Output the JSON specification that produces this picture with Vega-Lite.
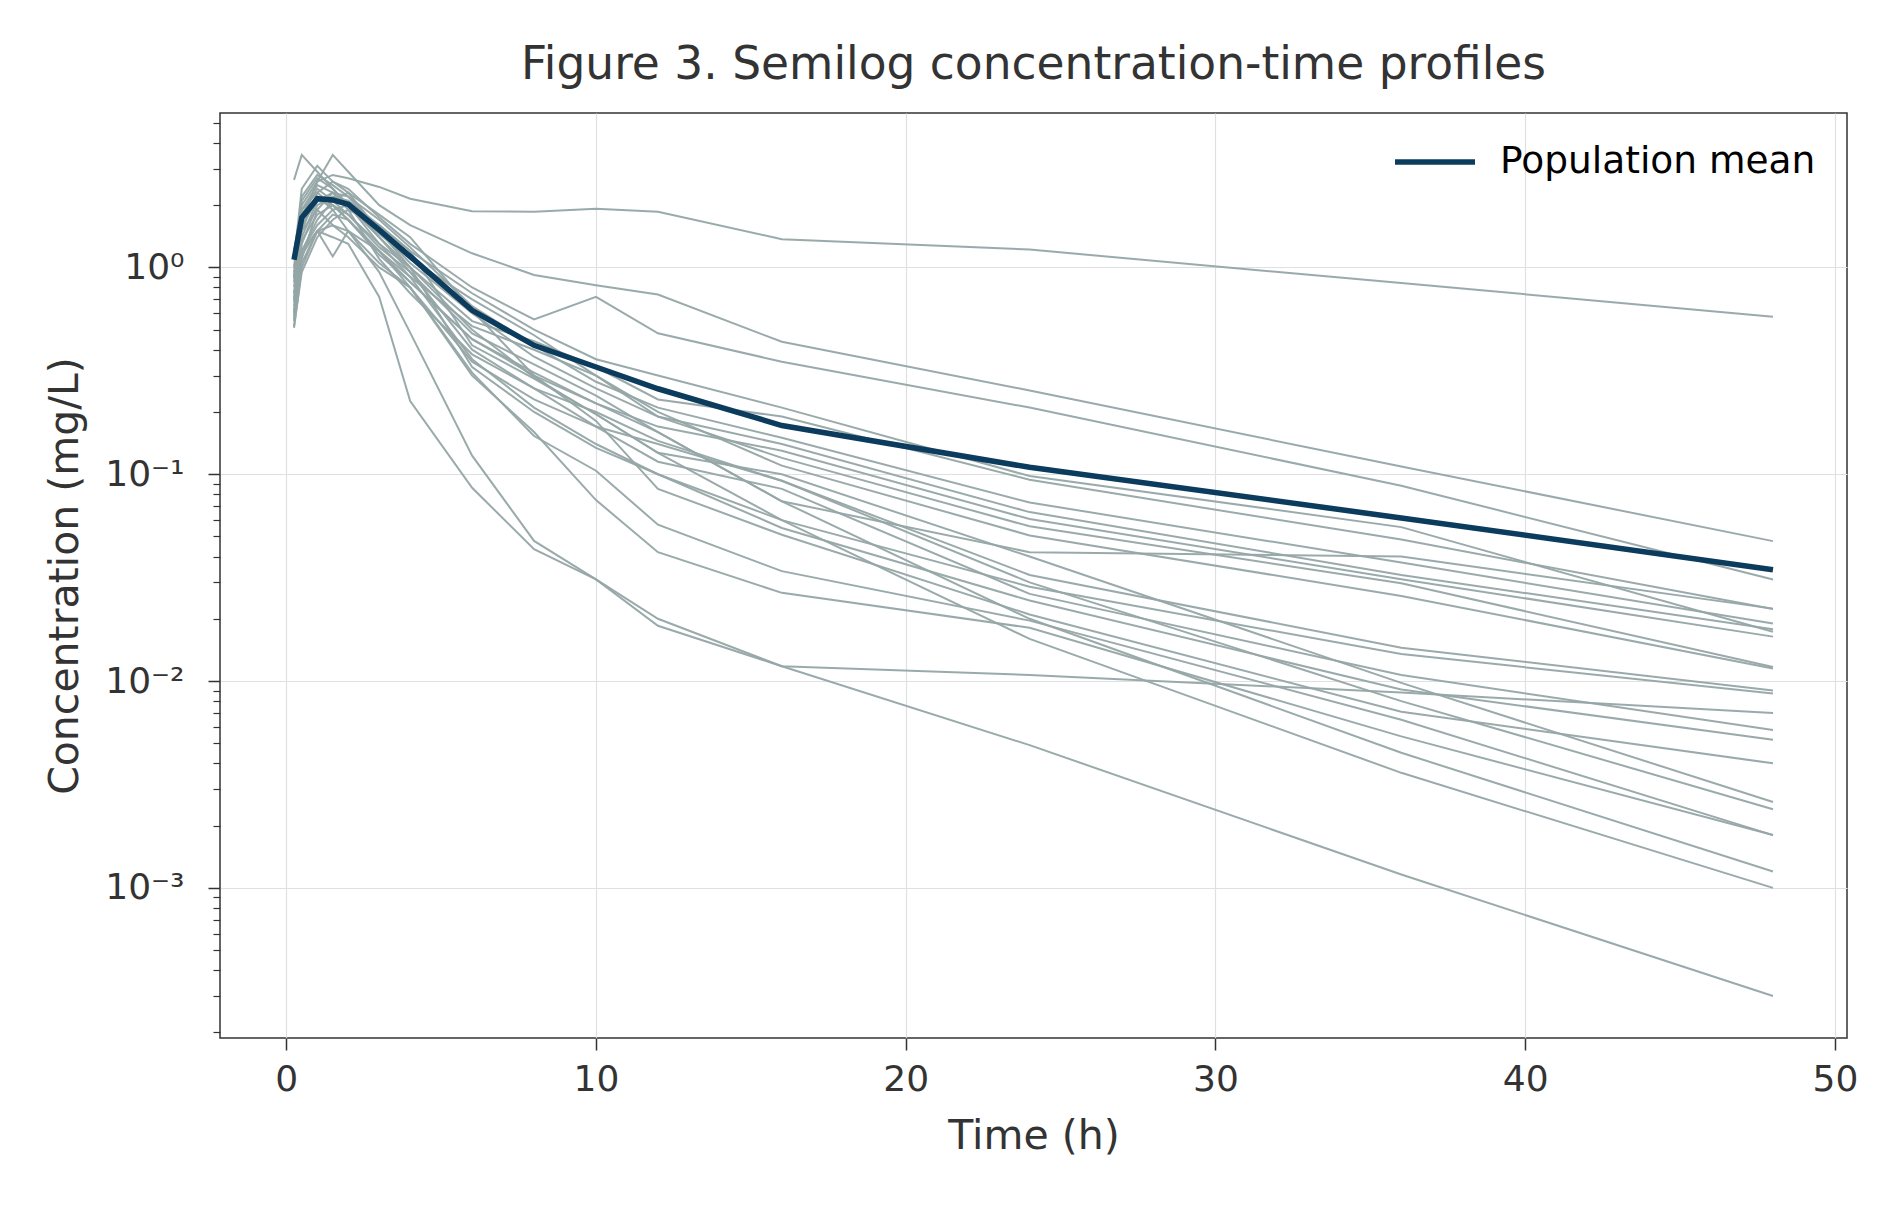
{
  "$schema": "https://vega.github.io/schema/vega-lite/v6.json",
  "autosize": "none",
  "width": 1627,
  "height": 925,
  "padding": {"left": 220, "top": 113, "right": 56, "bottom": 168},
  "background": "white",
  "title": {"text": "Figure 3. Semilog concentration-time profiles", "fontSize": 45.5, "font": "DejaVu Sans", "fontWeight": "normal", "color": "#333333", "anchor": "middle", "offset": 25},
  "config": {
    "view": {"stroke": "#333333", "strokeWidth": 1.5},
    "axis": {"labelFont": "DejaVu Sans", "titleFont": "DejaVu Sans", "labelFontSize": 36, "titleFontSize": 41, "labelColor": "#333333", "titleColor": "#333333", "titleFontWeight": "normal", "tickColor": "#333333", "tickWidth": 1.5, "tickSize": 12, "domain": false, "gridColor": "#e0e0e0", "gridWidth": 1.2}
  },
  "datasets": {
    "mean": [
      {"time": 0.25, "conc": 1.09, "series": "Population mean"},
      {"time": 0.5, "conc": 1.74, "series": "Population mean"},
      {"time": 1, "conc": 2.15, "series": "Population mean"},
      {"time": 1.5, "conc": 2.12, "series": "Population mean"},
      {"time": 2, "conc": 2.02, "series": "Population mean"},
      {"time": 3, "conc": 1.52, "series": "Population mean"},
      {"time": 4, "conc": 1.13, "series": "Population mean"},
      {"time": 6, "conc": 0.62, "series": "Population mean"},
      {"time": 8, "conc": 0.42, "series": "Population mean"},
      {"time": 10, "conc": 0.33, "series": "Population mean"},
      {"time": 12, "conc": 0.259, "series": "Population mean"},
      {"time": 16, "conc": 0.172, "series": "Population mean"},
      {"time": 24, "conc": 0.108, "series": "Population mean"},
      {"time": 36, "conc": 0.0615, "series": "Population mean"},
      {"time": 48, "conc": 0.0345, "series": "Population mean"}
    ],
    "subjects": [
      {"subject":"S01","time":0.25,"conc":1.2},{"subject":"S01","time":0.5,"conc":2.0},{"subject":"S01","time":1,"conc":2.6},{"subject":"S01","time":1.5,"conc":2.8},{"subject":"S01","time":2,"conc":2.7},{"subject":"S01","time":3,"conc":2.45},{"subject":"S01","time":4,"conc":2.15},{"subject":"S01","time":6,"conc":1.87},{"subject":"S01","time":8,"conc":1.86},{"subject":"S01","time":10,"conc":1.92},{"subject":"S01","time":12,"conc":1.86},{"subject":"S01","time":16,"conc":1.37},{"subject":"S01","time":24,"conc":1.22},{"subject":"S01","time":36,"conc":0.84},{"subject":"S01","time":48,"conc":0.578},
      {"subject":"S02","time":0.25,"conc":0.9},{"subject":"S02","time":0.5,"conc":1.7},{"subject":"S02","time":1,"conc":2.6},{"subject":"S02","time":1.5,"conc":3.5},{"subject":"S02","time":2,"conc":2.9},{"subject":"S02","time":3,"conc":2.0},{"subject":"S02","time":4,"conc":1.6},{"subject":"S02","time":6,"conc":1.17},{"subject":"S02","time":8,"conc":0.92},{"subject":"S02","time":10,"conc":0.82},{"subject":"S02","time":12,"conc":0.74},{"subject":"S02","time":16,"conc":0.437},{"subject":"S02","time":24,"conc":0.254},{"subject":"S02","time":36,"conc":0.109},{"subject":"S02","time":48,"conc":0.0475},
      {"subject":"S03","time":0.25,"conc":0.75},{"subject":"S03","time":0.5,"conc":1.5},{"subject":"S03","time":1,"conc":2.3},{"subject":"S03","time":1.5,"conc":2.6},{"subject":"S03","time":2,"conc":2.4},{"subject":"S03","time":3,"conc":1.75},{"subject":"S03","time":4,"conc":1.3},{"subject":"S03","time":6,"conc":0.8},{"subject":"S03","time":8,"conc":0.56},{"subject":"S03","time":10,"conc":0.72},{"subject":"S03","time":12,"conc":0.48},{"subject":"S03","time":16,"conc":0.35},{"subject":"S03","time":24,"conc":0.21},{"subject":"S03","time":36,"conc":0.088},{"subject":"S03","time":48,"conc":0.031},
      {"subject":"S04","time":0.25,"conc":0.7},{"subject":"S04","time":0.5,"conc":1.6},{"subject":"S04","time":1,"conc":2.1},{"subject":"S04","time":1.5,"conc":2.3},{"subject":"S04","time":2,"conc":2.0},{"subject":"S04","time":3,"conc":1.4},{"subject":"S04","time":4,"conc":0.95},{"subject":"S04","time":6,"conc":0.48},{"subject":"S04","time":8,"conc":0.34},{"subject":"S04","time":10,"conc":0.24},{"subject":"S04","time":12,"conc":0.16},{"subject":"S04","time":16,"conc":0.074},{"subject":"S04","time":24,"conc":0.042},{"subject":"S04","time":36,"conc":0.04},{"subject":"S04","time":48,"conc":0.0224},
      {"subject":"S05","time":0.25,"conc":0.6},{"subject":"S05","time":0.5,"conc":1.3},{"subject":"S05","time":1,"conc":2.0},{"subject":"S05","time":1.5,"conc":2.2},{"subject":"S05","time":2,"conc":2.1},{"subject":"S05","time":3,"conc":1.6},{"subject":"S05","time":4,"conc":1.2},{"subject":"S05","time":6,"conc":0.75},{"subject":"S05","time":8,"conc":0.5},{"subject":"S05","time":10,"conc":0.36},{"subject":"S05","time":12,"conc":0.3},{"subject":"S05","time":16,"conc":0.21},{"subject":"S05","time":24,"conc":0.098},{"subject":"S05","time":36,"conc":0.0555},{"subject":"S05","time":48,"conc":0.0173},
      {"subject":"S06","time":0.25,"conc":1.0},{"subject":"S06","time":0.5,"conc":2.2},{"subject":"S06","time":1,"conc":2.8},{"subject":"S06","time":1.5,"conc":2.5},{"subject":"S06","time":2,"conc":2.2},{"subject":"S06","time":3,"conc":1.5},{"subject":"S06","time":4,"conc":1.0},{"subject":"S06","time":6,"conc":0.55},{"subject":"S06","time":8,"conc":0.44},{"subject":"S06","time":10,"conc":0.33},{"subject":"S06","time":12,"conc":0.23},{"subject":"S06","time":16,"conc":0.19},{"subject":"S06","time":24,"conc":0.094},{"subject":"S06","time":36,"conc":0.0483},{"subject":"S06","time":48,"conc":0.0223},
      {"subject":"S07","time":0.25,"conc":0.55},{"subject":"S07","time":0.5,"conc":1.1},{"subject":"S07","time":1,"conc":1.9},{"subject":"S07","time":1.5,"conc":2.3},{"subject":"S07","time":2,"conc":2.2},{"subject":"S07","time":3,"conc":1.7},{"subject":"S07","time":4,"conc":1.25},{"subject":"S07","time":6,"conc":0.65},{"subject":"S07","time":8,"conc":0.42},{"subject":"S07","time":10,"conc":0.28},{"subject":"S07","time":12,"conc":0.21},{"subject":"S07","time":16,"conc":0.15},{"subject":"S07","time":24,"conc":0.073},{"subject":"S07","time":36,"conc":0.0374},{"subject":"S07","time":48,"conc":0.019},
      {"subject":"S08","time":0.25,"conc":0.8},{"subject":"S08","time":0.5,"conc":1.8},{"subject":"S08","time":1,"conc":2.4},{"subject":"S08","time":1.5,"conc":2.1},{"subject":"S08","time":2,"conc":1.8},{"subject":"S08","time":3,"conc":1.3},{"subject":"S08","time":4,"conc":0.9},{"subject":"S08","time":6,"conc":0.52},{"subject":"S08","time":8,"conc":0.4},{"subject":"S08","time":10,"conc":0.3},{"subject":"S08","time":12,"conc":0.19},{"subject":"S08","time":16,"conc":0.14},{"subject":"S08","time":24,"conc":0.0656},{"subject":"S08","time":36,"conc":0.0326},{"subject":"S08","time":48,"conc":0.0178},
      {"subject":"S09","time":0.25,"conc":0.65},{"subject":"S09","time":0.5,"conc":1.4},{"subject":"S09","time":1,"conc":2.1},{"subject":"S09","time":1.5,"conc":2.0},{"subject":"S09","time":2,"conc":1.7},{"subject":"S09","time":3,"conc":1.2},{"subject":"S09","time":4,"conc":0.85},{"subject":"S09","time":6,"conc":0.45},{"subject":"S09","time":8,"conc":0.31},{"subject":"S09","time":10,"conc":0.22},{"subject":"S09","time":12,"conc":0.17},{"subject":"S09","time":16,"conc":0.13},{"subject":"S09","time":24,"conc":0.0607},{"subject":"S09","time":36,"conc":0.0311},{"subject":"S09","time":48,"conc":0.0164},
      {"subject":"S10","time":0.25,"conc":1.1},{"subject":"S10","time":0.5,"conc":2.4},{"subject":"S10","time":1,"conc":3.1},{"subject":"S10","time":1.5,"conc":2.6},{"subject":"S10","time":2,"conc":2.3},{"subject":"S10","time":3,"conc":1.5},{"subject":"S10","time":4,"conc":1.05},{"subject":"S10","time":6,"conc":0.6},{"subject":"S10","time":8,"conc":0.37},{"subject":"S10","time":10,"conc":0.26},{"subject":"S10","time":12,"conc":0.19},{"subject":"S10","time":16,"conc":0.12},{"subject":"S10","time":24,"conc":0.056},{"subject":"S10","time":36,"conc":0.0297},{"subject":"S10","time":48,"conc":0.0117},
      {"subject":"S11","time":0.25,"conc":0.62},{"subject":"S11","time":0.5,"conc":1.2},{"subject":"S11","time":1,"conc":1.6},{"subject":"S11","time":1.5,"conc":1.9},{"subject":"S11","time":2,"conc":2.0},{"subject":"S11","time":3,"conc":1.45},{"subject":"S11","time":4,"conc":1.1},{"subject":"S11","time":6,"conc":0.7},{"subject":"S11","time":8,"conc":0.47},{"subject":"S11","time":10,"conc":0.3},{"subject":"S11","time":12,"conc":0.2},{"subject":"S11","time":16,"conc":0.11},{"subject":"S11","time":24,"conc":0.0506},{"subject":"S11","time":36,"conc":0.0258},{"subject":"S11","time":48,"conc":0.0115},
      {"subject":"S12","time":0.25,"conc":0.9},{"subject":"S12","time":0.5,"conc":1.9},{"subject":"S12","time":1,"conc":2.5},{"subject":"S12","time":1.5,"conc":2.3},{"subject":"S12","time":2,"conc":1.9},{"subject":"S12","time":3,"conc":1.1},{"subject":"S12","time":4,"conc":0.75},{"subject":"S12","time":6,"conc":0.38},{"subject":"S12","time":8,"conc":0.26},{"subject":"S12","time":10,"conc":0.2},{"subject":"S12","time":12,"conc":0.145},{"subject":"S12","time":16,"conc":0.093},{"subject":"S12","time":24,"conc":0.0326},{"subject":"S12","time":36,"conc":0.0145},{"subject":"S12","time":48,"conc":0.009},
      {"subject":"S13","time":0.25,"conc":0.52},{"subject":"S13","time":0.5,"conc":0.95},{"subject":"S13","time":1,"conc":1.4},{"subject":"S13","time":1.5,"conc":1.7},{"subject":"S13","time":2,"conc":1.9},{"subject":"S13","time":3,"conc":1.6},{"subject":"S13","time":4,"conc":1.2},{"subject":"S13","time":6,"conc":0.42},{"subject":"S13","time":8,"conc":0.29},{"subject":"S13","time":10,"conc":0.195},{"subject":"S13","time":12,"conc":0.127},{"subject":"S13","time":16,"conc":0.06},{"subject":"S13","time":24,"conc":0.0286},{"subject":"S13","time":36,"conc":0.0135},{"subject":"S13","time":48,"conc":0.0087},
      {"subject":"S14","time":0.25,"conc":0.85},{"subject":"S14","time":0.5,"conc":1.7},{"subject":"S14","time":1,"conc":2.2},{"subject":"S14","time":1.5,"conc":1.9},{"subject":"S14","time":2,"conc":1.5},{"subject":"S14","time":3,"conc":0.95},{"subject":"S14","time":4,"conc":0.484},{"subject":"S14","time":6,"conc":0.123},{"subject":"S14","time":8,"conc":0.0476},{"subject":"S14","time":10,"conc":0.031},{"subject":"S14","time":12,"conc":0.02},{"subject":"S14","time":16,"conc":0.0118},{"subject":"S14","time":24,"conc":0.0107},{"subject":"S14","time":36,"conc":0.0088},{"subject":"S14","time":48,"conc":0.007},
      {"subject":"S15","time":0.25,"conc":0.7},{"subject":"S15","time":0.5,"conc":1.5},{"subject":"S15","time":1,"conc":1.9},{"subject":"S15","time":1.5,"conc":1.6},{"subject":"S15","time":2,"conc":1.4},{"subject":"S15","time":3,"conc":1.0},{"subject":"S15","time":4,"conc":0.8},{"subject":"S15","time":6,"conc":0.35},{"subject":"S15","time":8,"conc":0.23},{"subject":"S15","time":10,"conc":0.17},{"subject":"S15","time":12,"conc":0.115},{"subject":"S15","time":16,"conc":0.085},{"subject":"S15","time":24,"conc":0.0264},{"subject":"S15","time":36,"conc":0.0107},{"subject":"S15","time":48,"conc":0.0058},
      {"subject":"S16","time":0.25,"conc":2.65},{"subject":"S16","time":0.5,"conc":3.5},{"subject":"S16","time":1,"conc":2.9},{"subject":"S16","time":1.5,"conc":2.4},{"subject":"S16","time":2,"conc":2.0},{"subject":"S16","time":3,"conc":1.4},{"subject":"S16","time":4,"conc":1.0},{"subject":"S16","time":6,"conc":0.33},{"subject":"S16","time":8,"conc":0.2},{"subject":"S16","time":10,"conc":0.134},{"subject":"S16","time":12,"conc":0.1},{"subject":"S16","time":16,"conc":0.055},{"subject":"S16","time":24,"conc":0.0245},{"subject":"S16","time":36,"conc":0.0091},{"subject":"S16","time":48,"conc":0.0052},
      {"subject":"S17","time":0.25,"conc":0.58},{"subject":"S17","time":0.5,"conc":1.2},{"subject":"S17","time":1,"conc":1.7},{"subject":"S17","time":1.5,"conc":2.1},{"subject":"S17","time":2,"conc":2.3},{"subject":"S17","time":3,"conc":1.8},{"subject":"S17","time":4,"conc":1.4},{"subject":"S17","time":6,"conc":0.62},{"subject":"S17","time":8,"conc":0.3},{"subject":"S17","time":10,"conc":0.181},{"subject":"S17","time":12,"conc":0.085},{"subject":"S17","time":16,"conc":0.051},{"subject":"S17","time":24,"conc":0.021},{"subject":"S17","time":36,"conc":0.0071},{"subject":"S17","time":48,"conc":0.004},
      {"subject":"S18","time":0.25,"conc":0.95},{"subject":"S18","time":0.5,"conc":2.1},{"subject":"S18","time":1,"conc":2.7},{"subject":"S18","time":1.5,"conc":2.4},{"subject":"S18","time":2,"conc":2.0},{"subject":"S18","time":3,"conc":1.3},{"subject":"S18","time":4,"conc":1.0},{"subject":"S18","time":6,"conc":0.5},{"subject":"S18","time":8,"conc":0.294},{"subject":"S18","time":10,"conc":0.195},{"subject":"S18","time":12,"conc":0.127},{"subject":"S18","time":16,"conc":0.1},{"subject":"S18","time":24,"conc":0.04},{"subject":"S18","time":36,"conc":0.0098},{"subject":"S18","time":48,"conc":0.0026},
      {"subject":"S19","time":0.25,"conc":0.68},{"subject":"S19","time":0.5,"conc":1.35},{"subject":"S19","time":1,"conc":1.8},{"subject":"S19","time":1.5,"conc":2.0},{"subject":"S19","time":2,"conc":1.8},{"subject":"S19","time":3,"conc":1.25},{"subject":"S19","time":4,"conc":0.95},{"subject":"S19","time":6,"conc":0.4},{"subject":"S19","time":8,"conc":0.26},{"subject":"S19","time":10,"conc":0.17},{"subject":"S19","time":12,"conc":0.14},{"subject":"S19","time":16,"conc":0.093},{"subject":"S19","time":24,"conc":0.03},{"subject":"S19","time":36,"conc":0.008},{"subject":"S19","time":48,"conc":0.0024},
      {"subject":"S20","time":0.25,"conc":0.6},{"subject":"S20","time":0.5,"conc":1.15},{"subject":"S20","time":1,"conc":1.5},{"subject":"S20","time":1.5,"conc":1.6},{"subject":"S20","time":2,"conc":1.5},{"subject":"S20","time":3,"conc":1.05},{"subject":"S20","time":4,"conc":0.8},{"subject":"S20","time":6,"conc":0.31},{"subject":"S20","time":8,"conc":0.153},{"subject":"S20","time":10,"conc":0.104},{"subject":"S20","time":12,"conc":0.057},{"subject":"S20","time":16,"conc":0.034},{"subject":"S20","time":24,"conc":0.0196},{"subject":"S20","time":36,"conc":0.0065},{"subject":"S20","time":48,"conc":0.0018},
      {"subject":"S21","time":0.25,"conc":0.75},{"subject":"S21","time":0.5,"conc":1.2},{"subject":"S21","time":1,"conc":1.5},{"subject":"S21","time":1.5,"conc":1.13},{"subject":"S21","time":2,"conc":1.5},{"subject":"S21","time":3,"conc":1.2},{"subject":"S21","time":4,"conc":0.8},{"subject":"S21","time":6,"conc":0.3},{"subject":"S21","time":8,"conc":0.16},{"subject":"S21","time":10,"conc":0.075},{"subject":"S21","time":12,"conc":0.042},{"subject":"S21","time":16,"conc":0.0267},{"subject":"S21","time":24,"conc":0.0181},{"subject":"S21","time":36,"conc":0.0054},{"subject":"S21","time":48,"conc":0.0018},
      {"subject":"S22","time":0.25,"conc":0.88},{"subject":"S22","time":0.5,"conc":1.9},{"subject":"S22","time":1,"conc":2.3},{"subject":"S22","time":1.5,"conc":2.0},{"subject":"S22","time":2,"conc":1.7},{"subject":"S22","time":3,"conc":1.15},{"subject":"S22","time":4,"conc":0.85},{"subject":"S22","time":6,"conc":0.45},{"subject":"S22","time":8,"conc":0.3},{"subject":"S22","time":10,"conc":0.22},{"subject":"S22","time":12,"conc":0.16},{"subject":"S22","time":16,"conc":0.074},{"subject":"S22","time":24,"conc":0.02},{"subject":"S22","time":36,"conc":0.0045},{"subject":"S22","time":48,"conc":0.0012},
      {"subject":"S23","time":0.25,"conc":0.56},{"subject":"S23","time":0.5,"conc":1.05},{"subject":"S23","time":1,"conc":1.5},{"subject":"S23","time":1.5,"conc":1.8},{"subject":"S23","time":2,"conc":1.7},{"subject":"S23","time":3,"conc":1.2},{"subject":"S23","time":4,"conc":0.9},{"subject":"S23","time":6,"conc":0.36},{"subject":"S23","time":8,"conc":0.21},{"subject":"S23","time":10,"conc":0.14},{"subject":"S23","time":12,"conc":0.1},{"subject":"S23","time":16,"conc":0.06},{"subject":"S23","time":24,"conc":0.016},{"subject":"S23","time":36,"conc":0.0036},{"subject":"S23","time":48,"conc":0.001},
      {"subject":"S24","time":0.25,"conc":0.51},{"subject":"S24","time":0.5,"conc":1.0},{"subject":"S24","time":1,"conc":1.5},{"subject":"S24","time":1.5,"conc":1.4},{"subject":"S24","time":2,"conc":1.3},{"subject":"S24","time":3,"conc":0.72},{"subject":"S24","time":4,"conc":0.226},{"subject":"S24","time":6,"conc":0.086},{"subject":"S24","time":8,"conc":0.0434},{"subject":"S24","time":10,"conc":0.031},{"subject":"S24","time":12,"conc":0.0185},{"subject":"S24","time":16,"conc":0.0118},{"subject":"S24","time":24,"conc":0.0049},{"subject":"S24","time":36,"conc":0.00116},{"subject":"S24","time":48,"conc":0.0003}
    ]
  },
  "resolve": {"axis": {"y": "independent"}},
  "layer": [
    {
      "data": {"name": "subjects"},
      "mark": {"type": "line", "color": "#95a5a6", "strokeWidth": 2, "opacity": 0.95},
      "encoding": {
        "x": {"field": "time", "type": "quantitative", "title": "Time (h)",
              "scale": {"domain": [-2.14, 50.39], "nice": false, "zero": false},
              "axis": {"values": [0, 10, 20, 30, 40, 50], "grid": true, "labelPadding": 12, "titlePadding": 19}},
        "y": {"field": "conc", "type": "quantitative",
              "scale": {"type": "log", "domain": [0.000188, 5.58], "nice": false},
              "axis": {"orient": "left", "title": null, "labels": false, "grid": false, "tickSize": 7, "tickWidth": 1.2,
                       "values": [0.0002,0.0003,0.0004,0.0005,0.0006,0.0007,0.0008,0.0009,0.002,0.003,0.004,0.005,0.006,0.007,0.008,0.009,0.02,0.03,0.04,0.05,0.06,0.07,0.08,0.09,0.2,0.3,0.4,0.5,0.6,0.7,0.8,0.9,2,3,4,5]}},
        "detail": {"field": "subject", "type": "nominal"}
      }
    },
    {
      "data": {"name": "mean"},
      "mark": {"type": "line", "strokeWidth": 5.5},
      "encoding": {
        "x": {"field": "time", "type": "quantitative", "title": "Time (h)"},
        "y": {"field": "conc", "type": "quantitative",
              "axis": {"orient": "left", "title": "Concentration (mg/L)", "grid": true, "values": [0.001, 0.01, 0.1, 1], "labelPadding": 24, "titlePadding": 18,
                       "labelExpr": "datum.value == 1 ? '10⁰' : datum.value == 0.1 ? '10⁻¹' : datum.value == 0.01 ? '10⁻²' : '10⁻³'"}},
        "color": {"field": "series", "type": "nominal",
                  "scale": {"domain": ["Population mean"], "range": ["#0b3c5d"]},
                  "legend": {"title": null, "orient": "none", "legendX": 1172, "legendY": 6, "symbolType": "stroke", "symbolStrokeWidth": 5.5, "symbolSize": 6400, "labelFontSize": 37.5, "labelFont": "DejaVu Sans", "labelColor": "#000000", "labelOffset": 22, "labelLimit": 0, "padding": 0}}
      }
    }
  ]
}
